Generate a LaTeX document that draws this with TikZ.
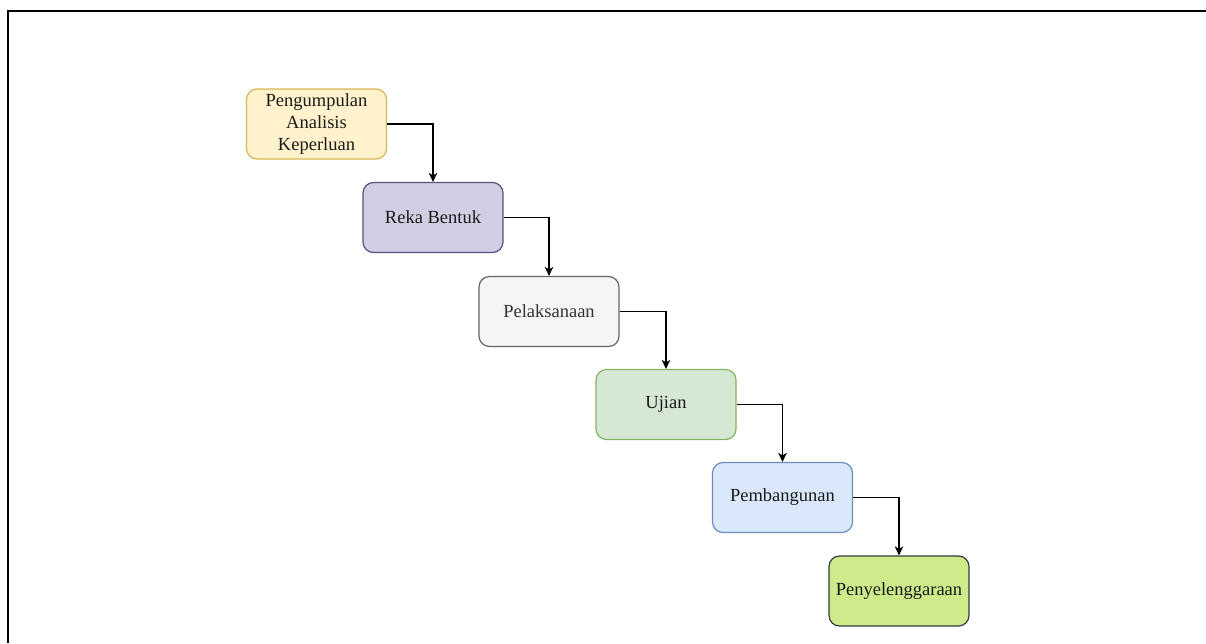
\documentclass[tikz,border=0pt]{standalone}
\usepackage{fontspec}
\setmainfont{Liberation Serif}
\usetikzlibrary{arrows.meta}

\definecolor{yelFill}{HTML}{FFF2CC}\definecolor{yelLine}{HTML}{D6B656}
\definecolor{purFill}{HTML}{D0CEE2}\definecolor{purLine}{HTML}{56517E}
\definecolor{gryFill}{HTML}{F5F5F5}\definecolor{gryLine}{HTML}{666666}
\definecolor{grnFill}{HTML}{D5E8D4}\definecolor{grnLine}{HTML}{82B366}
\definecolor{bluFill}{HTML}{DAE8FC}\definecolor{bluLine}{HTML}{6C8EBF}
\definecolor{limFill}{HTML}{CDEB8B}\definecolor{limLine}{HTML}{36393D}
\definecolor{txtDark}{HTML}{1A1A1A}
\definecolor{txtGray}{HTML}{333333}

\tikzset{
  stage/.style={rectangle, rounded corners=10.5pt, line width=1.2pt,
    minimum width=140pt, minimum height=70pt, inner sep=2pt,
    align=center, text=txtDark, font=\fontsize{18.5}{22}\selectfont},
  conn/.style={line width=1.4pt, draw=black,
    -{Stealth[length=9pt,width=8.5pt,inset=2.5pt]}},
  frameline/.style={line width=2pt, draw=black}
}

\begin{document}
\begin{tikzpicture}[x=1pt,y=-1pt]
  \useasboundingbox (0,0) rectangle (1206,643);
  \fill[white] (0,0) rectangle (1206,643);

  % outer frame (left and top edges)
  \coordinate (frameBL) at (8,643);
  \coordinate (frameTL) at (8,11);
  \coordinate (frameTR) at (1206,11);
  \draw[frameline] (frameBL) -- (frameTL) -- (frameTR);

  % stages
  \node[stage, fill=yelFill, draw=yelLine] (s1) at (316.5,124)
    {Pengumpulan\\Analisis\\Keperluan};
  \node[stage, fill=purFill, draw=purLine] (s2) at (433,217.5) {Reka Bentuk};
  \node[stage, fill=gryFill, draw=gryLine, text=txtGray] (s3) at (549,311.5) {Pelaksanaan};
  \node[stage, fill=grnFill, draw=grnLine] (s4) at (666,404.5) {Ujian};
  \node[stage, fill=bluFill, draw=bluLine] (s5) at (782.5,497.5) {Pembangunan};
  \node[stage, fill=limFill, draw=limLine] (s6) at (899,591) {Penyelenggaraan};

  % connectors
  \draw[conn] (s1.east) -| (s2.north);
  \draw[conn] (s2.east) -| (s3.north);
  \draw[conn] (s3.east) -| (s4.north);
  \draw[conn] (s4.east) -| (s5.north);
  \draw[conn] (s5.east) -| (s6.north);
\end{tikzpicture}
\end{document}
